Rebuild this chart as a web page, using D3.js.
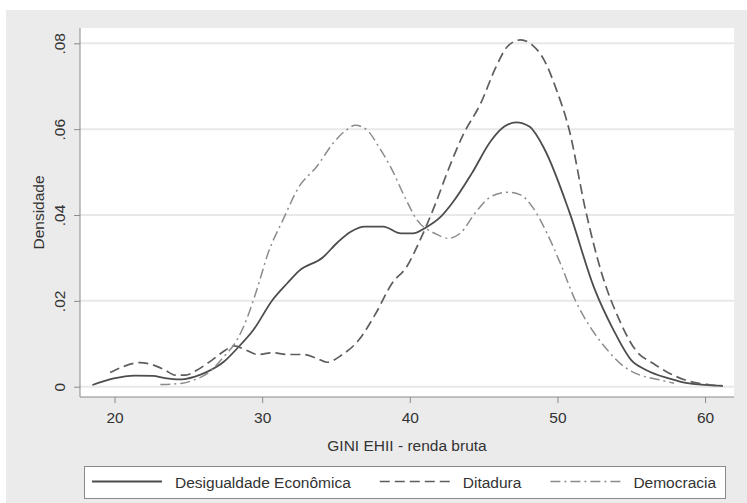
<!DOCTYPE html>
<html>
<head>
<meta charset="utf-8">
<script src="https://cdn.jsdelivr.net/npm/d3@7"></script>
<style>
  html, body { margin: 0; padding: 0; background: #ffffff; }
  svg { display: block; }
  text { font-family: "Liberation Sans", Arial, sans-serif; fill: #333333; }
</style>
</head>
<body>
<svg id="chart" width="747" height="503"></svg>
<script>
// Kernel density estimates of GINI EHII (gross income), by regime type
const seriesNames = ["Desigualdade Econômica", "Ditadura", "Democracia"];

const desigualdade = [
  [18.5,0.0004],[21.4,0.0026],[22.6,0.0025],[23.4,0.0020],[24.4,0.0017],[25.4,0.0023],
  [26.3,0.0035],[27.4,0.0058],[28.3,0.0089],[29.4,0.0132],[30.7,0.0202],[31.7,0.0241],
  [32.5,0.0270],[34.1,0.0301],[35.1,0.0336],[36.0,0.0361],[36.95,0.0373],[38.2,0.0373],
  [39.4,0.0357],[40.2,0.0357],[41.1,0.0371],[42.1,0.0396],[42.9,0.0429],[44.2,0.0497],
  [45.5,0.0573],[46.4,0.0606],[47.2,0.0616],[48.1,0.0606],[49.1,0.0555],[50.8,0.0408],
  [52.5,0.0229],[53.8,0.0132],[55.0,0.0062],[56.0,0.0039],[57.6,0.0019],[58.7,0.0009],
  [61.2,0.0002]
];

const ditadura = [
  [19.7,0.0033],[20.6,0.0047],[21.7,0.0056],[22.4,0.0053],[23.4,0.0039],[24.1,0.0027],
  [24.8,0.0027],[25.6,0.0039],[26.6,0.0062],[27.5,0.0085],[28.1,0.0095],[28.8,0.0087],
  [29.7,0.0075],[30.7,0.0079],[31.7,0.0075],[32.8,0.0075],[33.7,0.0066],[34.4,0.0057],
  [35.4,0.0074],[36.5,0.0107],[37.7,0.0171],[38.8,0.0241],[39.8,0.0280],[40.7,0.0342],
  [41.7,0.0423],[42.6,0.0505],[43.6,0.0586],[44.8,0.0660],[45.8,0.0742],[46.6,0.0792],
  [47.5,0.0808],[48.3,0.0796],[49.1,0.0761],[49.9,0.0695],[50.8,0.0598],[51.9,0.0412],
  [53.0,0.0264],[54.2,0.0155],[55.3,0.0085],[56.5,0.0054],[57.6,0.0031],[59.0,0.0012],
  [60.2,0.0005],[61.2,0.0002]
];

const democracia = [
  [23.1,0.0005],[24.6,0.0008],[25.4,0.0016],[26.3,0.0031],[27.4,0.0070],[28.3,0.0109],
  [29.1,0.0171],[29.7,0.0233],[30.4,0.0311],[31.4,0.0388],[32.5,0.0466],[33.7,0.0513],
  [34.8,0.0567],[35.7,0.0598],[36.3,0.0609],[37.1,0.0598],[37.9,0.0559],[38.8,0.0505],
  [39.7,0.0439],[40.5,0.0388],[41.7,0.0357],[42.6,0.0346],[43.4,0.0357],[44.5,0.0408],
  [45.5,0.0443],[46.6,0.0453],[47.5,0.0447],[48.3,0.0419],[49.3,0.0357],[50.2,0.0287],
  [51.2,0.0202],[52.2,0.0140],[53.3,0.0089],[54.5,0.0047],[55.6,0.0027],[56.8,0.0017],
  [57.9,0.0008]
];

const xTicks = [20, 30, 40, 50, 60];
const yTicks = [0, 0.02, 0.04, 0.06, 0.08];
const yTickLabels = ["0", ".02", ".04", ".06", ".08"];
const xTitle = "GINI EHII - renda bruta";
const yTitle = "Densidade";

// ---- layout ----
const svg = d3.select("#chart");
const W = 747, H = 503;
const plot = { left: 80, right: 734, top: 28, bottom: 397 };
const FONT = 15.5;

// graph region background
svg.append("rect").attr("x", 6).attr("y", 10).attr("width", W - 6).attr("height", H - 10)
  .attr("fill", "#ebebeb");
svg.append("rect").attr("x", plot.left).attr("y", plot.top)
  .attr("width", plot.right - plot.left).attr("height", plot.bottom - plot.top)
  .attr("fill", "#ffffff");

const x = d3.scaleLinear().domain([17.66, 61.96]).range([plot.left, plot.right]);
const y = d3.scaleLinear().domain([-0.0024, 0.08357]).range([plot.bottom, plot.top]);

// horizontal grid
svg.append("g").selectAll("line").data(yTicks).join("line")
  .attr("x1", plot.left).attr("x2", plot.right)
  .attr("y1", d => y(d)).attr("y2", d => y(d))
  .attr("stroke", "#e8e8e8").attr("stroke-width", 2);

// y axis
const yAxis = svg.append("g").attr("transform", `translate(${plot.left},0)`)
  .call(d3.axisLeft(y).tickValues(yTicks).tickSize(6)
    .tickFormat((d, i) => yTickLabels[i]));
yAxis.select(".domain").attr("stroke", "#8a8a8a").attr("d", `M0,${plot.top}V${plot.bottom}`);
yAxis.selectAll(".tick line").attr("stroke", "#8a8a8a");
yAxis.selectAll(".tick text")
  .attr("transform", "rotate(-90)")
  .attr("x", 0).attr("y", -15).attr("dy", null).attr("dx", null)
  .attr("text-anchor", "middle")
  .style("font-size", FONT + "px").attr("fill", "#333");
yAxis.attr("font-family", null).attr("font-size", null);

// x axis
const xAxis = svg.append("g").attr("transform", `translate(0,${plot.bottom})`)
  .call(d3.axisBottom(x).tickValues(xTicks).tickSize(6).tickPadding(9).tickFormat(d3.format("d")));
xAxis.select(".domain").attr("stroke", "#8a8a8a").attr("d", `M${plot.left},0H${plot.right}`);
xAxis.selectAll(".tick line").attr("stroke", "#8a8a8a");
xAxis.selectAll(".tick text").style("font-size", FONT + "px").attr("fill", "#333");
xAxis.attr("font-family", null).attr("font-size", null);

// axis titles
svg.append("text").attr("x", (plot.left + plot.right) / 2).attr("y", 451)
  .attr("text-anchor", "middle").style("font-size", FONT + "px").text(xTitle);
svg.append("text")
  .attr("transform", `translate(44,${(plot.top + plot.bottom) / 2}) rotate(-90)`)
  .attr("text-anchor", "middle").style("font-size", FONT + "px").text(yTitle);

// density curves
const styles = [
  { stroke: "#4d4d4d", width: 1.8, dash: null },
  { stroke: "#5e5e5e", width: 1.7, dash: "10,5" },
  { stroke: "#8c8c8c", width: 1.5, dash: "10,4,2,4" }
];
const line = d3.line().x(d => x(d[0])).y(d => y(d[1])).curve(d3.curveMonotoneX);
[desigualdade, ditadura, democracia].forEach((s, i) => {
  svg.append("path").datum(s).attr("d", line)
    .attr("fill", "none").attr("stroke", styles[i].stroke)
    .attr("stroke-width", styles[i].width)
    .attr("stroke-dasharray", styles[i].dash)
    .attr("stroke-linejoin", "round");
});

// legend
const leg = svg.append("g");
leg.append("rect").attr("x", 84.5).attr("y", 466.5).attr("width", 641).attr("height", 32)
  .attr("fill", "#ffffff").attr("stroke", "#8a8a8a").attr("stroke-width", 1);
let cx = 92;
seriesNames.forEach((name, i) => {
  leg.append("line").attr("x1", cx).attr("x2", cx + 70).attr("y1", 481.5).attr("y2", 481.5)
    .attr("stroke", styles[i].stroke).attr("stroke-width", styles[i].width)
    .attr("stroke-dasharray", styles[i].dash);
  const t = leg.append("text").attr("x", cx + 83).attr("y", 488)
    .style("font-size", FONT + "px").text(name);
  cx += 83 + t.node().getComputedTextLength() + 29;
});
</script>
</body>
</html>
